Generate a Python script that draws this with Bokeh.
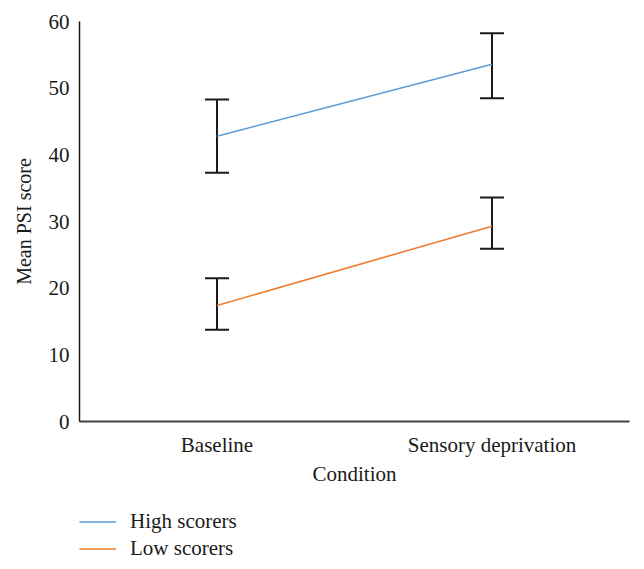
from bokeh.plotting import figure
from bokeh.layouts import column
from bokeh.models import (Range1d, FixedTicker, Whisker, ColumnDataSource, TeeHead,
                          Legend, LegendItem)
from bokeh.embed import file_html
from bokeh.resources import INLINE

categories = ["Baseline", "Sensory deprivation"]
cat_pos = [0, 1]
high_mean = [42.8, 53.6]
high_upper = [48.3, 58.25]
high_lower = [37.3, 48.5]
low_mean = [17.4, 29.3]
low_upper = [21.5, 33.6]
low_lower = [13.75, 25.9]
y_ticks = [0, 10, 20, 30, 40, 50, 60]
series_names = ["High scorers", "Low scorers"]
series_colors = ["#5B9BD5", "#ED7D31"]

FONT = "Liberation Serif"
INK = "#1a1a1a"

p = figure(frame_width=550, frame_height=400, output_backend="svg", toolbar_location=None,
           x_range=Range1d(-0.5, 1.5), y_range=Range1d(0, 60),
           min_border_left=79, min_border_right=6, min_border_top=21,
           min_border_bottom=80)
p.outline_line_color = None
p.xgrid.visible = False
p.ygrid.visible = False

src_h = ColumnDataSource(dict(x=cat_pos, y=high_mean, up=high_upper, lo=high_lower))
src_l = ColumnDataSource(dict(x=cat_pos, y=low_mean, up=low_upper, lo=low_lower))

p.line("x", "y", source=src_h, line_color=series_colors[0], line_width=1.6)
p.line("x", "y", source=src_l, line_color=series_colors[1], line_width=1.6)

for src in (src_h, src_l):
    w = Whisker(base="x", upper="up", lower="lo", source=src,
                line_color=INK, line_width=2,
                upper_head=TeeHead(size=24, line_color=INK, line_width=2),
                lower_head=TeeHead(size=24, line_color=INK, line_width=2))
    p.add_layout(w)

# axes
p.xaxis.ticker = FixedTicker(ticks=cat_pos)
p.xaxis.major_label_overrides = {c: l for c, l in zip(cat_pos, categories)}
p.yaxis.ticker = FixedTicker(ticks=y_ticks)
for ax in (p.xaxis[0], p.yaxis[0]):
    ax.major_tick_line_color = None
    ax.minor_tick_line_color = None
    ax.major_label_text_font = FONT
    ax.major_label_text_font_size = "21px"
    ax.major_label_text_color = INK
    ax.axis_label_text_font = FONT
    ax.axis_label_text_font_style = "normal"
    ax.axis_label_text_color = INK
p.xaxis.axis_line_color = "#404040"
p.xaxis.axis_line_width = 2
p.yaxis.axis_line_color = INK
p.yaxis.axis_line_width = 1.5
p.xaxis.axis_label = "Condition"
p.xaxis.axis_label_text_font_size = "21px"
p.xaxis.major_label_standoff = 5
p.xaxis.axis_label_standoff = 2
p.yaxis.axis_label = "Mean PSI score"
p.yaxis.axis_label_text_font_size = "20px"
p.yaxis.major_label_standoff = 4
p.yaxis.axis_label_standoff = 11

# legend strip below the chart (series drawn off-range, only their keys show)
lg = figure(width=635, height=64, output_backend="svg", toolbar_location=None,
            x_range=Range1d(-0.5, 1.5), y_range=Range1d(-2, -1), min_border=0)
lg.axis.visible = False
lg.grid.visible = False
lg.outline_line_color = None
items = []
for name, color, vals in zip(series_names, series_colors, (high_mean, low_mean)):
    r = lg.line(x=cat_pos, y=vals, line_color=color, line_width=1.6)
    items.append(LegendItem(label=name, renderers=[r]))
legend = Legend(items=items, location=(0, 4), orientation="vertical",
                border_line_color=None, background_fill_alpha=0,
                label_text_font=FONT, label_text_font_size="21px",
                label_text_color=INK,
                glyph_width=37, glyph_height=21, label_height=21,
                label_standoff=14, spacing=2, padding=0, margin=0)
lg.add_layout(legend, "center")

open("out.html", "w").write(file_html(column(p, lg), INLINE))
